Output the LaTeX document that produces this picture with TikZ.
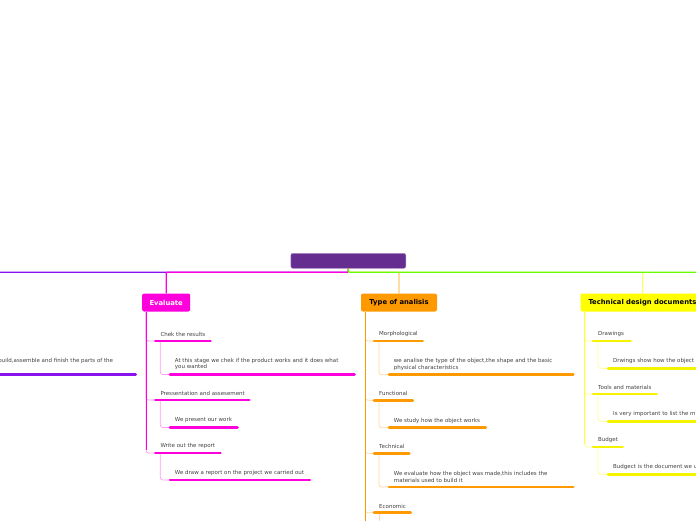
\documentclass[tikz,border=0pt]{standalone}
\usepackage{fontspec}
\setmainfont{DejaVu Sans}
\usetikzlibrary{calc}
\definecolor{rootpurple}{HTML}{662D91}
\definecolor{violetline}{HTML}{8A12EC}
\definecolor{evalmag}{HTML}{FF00DD}
\definecolor{evallight}{HTML}{FF9CEE}
\definecolor{typeorange}{HTML}{FF9900}
\definecolor{typelight}{HTML}{FFD89C}
\definecolor{techyellow}{HTML}{FFFF00}
\definecolor{techbar}{HTML}{F4F400}
\definecolor{techlight}{HTML}{FFFF8C}
\definecolor{greenline}{HTML}{66FF00}
\definecolor{labelgray}{HTML}{404040}
\tikzset{
	maintopic/.style={rounded corners=2pt, inner xsep=7pt, inner ysep=0pt, minimum height=18pt, font=\fontsize{6.8}{7.5}\selectfont\bfseries},
	subtext/.style={inner sep=0pt, anchor=south west, text=labelgray, align=left, font=\fontsize{5.5}{6.7}\selectfont},
	bar/.style={line width=2.6pt, line cap=round},
	hook/.style={line width=0.7pt, rounded corners=2.5pt},
	link/.style={line width=1.2pt, rounded corners=1pt},
}

\begin{document}
\begin{tikzpicture}[x=1pt, y=-1pt]
		%%%%% START %%%%%
		\useasboundingbox (0,0) rectangle (696,520);
		\clip (0,0) rectangle (696,520);
		
		\node[fill=rootpurple, draw=rootpurple!55, rounded corners=2pt, minimum width=115pt, minimum height=15pt, inner sep=0pt] (root) at (348.3,260.8) {};
		
		\node[maintopic, fill=evalmag, text=white, minimum width=48pt] (evaluate) at (166.2,302.5) {Evaluate};
		\node[maintopic, fill=typeorange, text=black, minimum width=76pt] (type) at (399,302.5) {Type of analisis};
		\node[maintopic, fill=techyellow, text=black, anchor=west, inner xsep=8pt] (tech) at (580.3,302.5) {Technical design documents};
		
		%%%%% links from the root
		\draw[link, violetline] (root.south) -- (348.3,272.3) -- (-20,272.3);
		\draw[link, evalmag] (root.south) -- (348.3,272.3) -| (evaluate.north);
		\draw[link, typeorange, line width=0.8pt] (root.south) -- (348.3,272.3) -| (type.north);
		\draw[link, techyellow, line width=0.8pt] (root.south) -- (348.3,272.3) -| (tech.north -| 642.7,0);
		\draw[link, greenline] (root.south) -- (348.3,272.3) -- (720,272.3);
		
		%%%%% left branch
		\coordinate (build-s) at (-20,374.7);
		\draw[bar, violetline] (build-s) -- (135.7,374.7);
		\node[subtext, anchor=base east] (build) at (113.3,362.8) {We build,assemble and finish the parts of the};
		
		%%%%% Evaluate
		\coordinate (evaltrunk) at ($(evaluate.south west)+(4,0)$);
		\coordinate (chek-s) at (155.3,341);
		\coordinate (stage-s) at (170,374.5);
		\coordinate (press-s) at (155.3,400);
		\coordinate (present-s) at (170,427.5);
		\coordinate (write-s) at (155.3,453);
		\coordinate (draw-s) at (170,480);
		
		\draw[hook, evallight] (evaltrunk) |- (chek-s);
		\draw[hook, evallight] (evaltrunk) |- (press-s);
		\draw[hook, evallight] (evaltrunk) |- (write-s);
		\draw[hook, evallight] ($(chek-s)+(5,0)$) |- (stage-s);
		\draw[hook, evallight] ($(press-s)+(5,0)$) |- (present-s);
		\draw[hook, evallight] ($(write-s)+(5,0)$) |- (draw-s);
		\draw[evalmag, line width=0.8pt] (evaltrunk) -- (evaltrunk |- 0,450);
		
		\draw[bar, evalmag] (chek-s) -- (210.5,341);
		\draw[bar, evalmag] (stage-s) -- (354.5,374.5);
		\draw[bar, evalmag] (press-s) -- (249.3,400);
		\draw[bar, evalmag] (present-s) -- (237.5,427.5);
		\draw[bar, evalmag] (write-s) -- (220.5,453);
		\draw[bar, evalmag] (draw-s) -- (310,480);
		
		\node[subtext] (chek) at ($(chek-s)+(5,-4.3)$) {Chek the results};
		\node[subtext] (stage) at ($(stage-s)+(4.7,-4.3)$) {At this stage we chek if the product works and it does what\\you wanted};
		\node[subtext] (press) at ($(press-s)+(5,-4.3)$) {Pressentation and assesement};
		\node[subtext] (present) at ($(present-s)+(4.7,-4.3)$) {We present our work};
		\node[subtext] (write) at ($(write-s)+(5,-4.3)$) {Write out the report};
		\node[subtext] (drawrep) at ($(draw-s)+(4.7,-4.3)$) {We draw a report on the project we carried out};
		
		%%%%% Type of analisis
		\coordinate (typetrunk) at ($(type.south west)+(4.7,0)$);
		\coordinate (morph-s) at (374,341);
		\coordinate (shape-s) at (389,374.7);
		\coordinate (func-s) at (374,400.3);
		\coordinate (works-s) at (389,427.7);
		\coordinate (techn-s) at (374,453.3);
		\coordinate (made-s) at (389,487);
		\coordinate (econ-s) at (374,512.7);
		
		\draw[hook, typelight] (typetrunk) |- (morph-s);
		\draw[hook, typelight] (typetrunk) |- (func-s);
		\draw[hook, typelight] (typetrunk) |- (techn-s);
		\draw[hook, typelight] (typetrunk) |- (econ-s);
		\draw[hook, typelight] ($(morph-s)+(5,0)$) |- (shape-s);
		\draw[hook, typelight] ($(func-s)+(5,0)$) |- (works-s);
		\draw[hook, typelight] ($(techn-s)+(5,0)$) |- (made-s);
		\draw[hook, typelight] ($(econ-s)+(5,0)$) -- ($(econ-s)+(5,20)$);
		\draw[typeorange, line width=0.8pt] (typetrunk) -- (typetrunk |- 0,530);
		
		\draw[bar, typeorange] (morph-s) -- (422.7,341);
		\draw[bar, typeorange] (shape-s) -- (573.3,374.7);
		\draw[bar, typeorange] (func-s) -- (412.7,400.3);
		\draw[bar, typeorange] (works-s) -- (485.7,427.7);
		\draw[bar, typeorange] (techn-s) -- (409.3,453.3);
		\draw[bar, typeorange] (made-s) -- (573.3,487);
		\draw[bar, typeorange] (econ-s) -- (410.7,512.7);
		
		\node[subtext] (morph) at ($(morph-s)+(5,-4.3)$) {Morphological};
		\node[subtext] (shape) at ($(shape-s)+(4.7,-4.3)$) {we analise the type of the object,the shape and the basic\\physical characteristics};
		\node[subtext] (func) at ($(func-s)+(5,-4.3)$) {Functional};
		\node[subtext] (works) at ($(works-s)+(4.7,-4.3)$) {We study how the object works};
		\node[subtext] (techn) at ($(techn-s)+(5,-4.3)$) {Technical};
		\node[subtext] (made) at ($(made-s)+(4.7,-4.3)$) {We evaluate how the object was made,this includes the\\materials used to build it};
		\node[subtext] (econ) at ($(econ-s)+(5,-4.3)$) {Economic};
		
		%%%%% Technical design documents
		\coordinate (techtrunk) at ($(tech.south west)+(4.4,0)$);
		\coordinate (drawings-s) at (593,341);
		\coordinate (show-s) at (608,368.3);
		\coordinate (tools-s) at (593,394);
		\coordinate (list-s) at (608,421.3);
		\coordinate (budget-s) at (593,447);
		\coordinate (budgdoc-s) at (608,474.3);
		
		\draw[hook, techlight] (techtrunk) |- (drawings-s);
		\draw[hook, techlight] (techtrunk) |- (tools-s);
		\draw[hook, techlight] (techtrunk) |- (budget-s);
		\draw[hook, techlight] ($(drawings-s)+(5,0)$) |- (show-s);
		\draw[hook, techlight] ($(tools-s)+(5,0)$) |- (list-s);
		\draw[hook, techlight] ($(budget-s)+(5,0)$) |- (budgdoc-s);
		\draw[techyellow!80!white, line width=0.8pt] (techtrunk) -- (techtrunk |- 0,444);
		
		\draw[bar, techbar] (drawings-s) -- (630.7,341);
		\draw[bar, techbar] (show-s) -- (710,368.3);
		\draw[bar, techbar] (tools-s) -- (656.7,394);
		\draw[bar, techbar] (list-s) -- (710,421.3);
		\draw[bar, techbar] (budget-s) -- (622.7,447);
		\draw[bar, techbar] (budgdoc-s) -- (710,474.3);
		
		\node[subtext] (drawings) at ($(drawings-s)+(5,-4.3)$) {Drawings};
		\node[subtext] (show) at ($(show-s)+(5,-4.3)$) {Drwings show how the object};
		\node[subtext] (tools) at ($(tools-s)+(5,-4.3)$) {Tools and materials};
		\node[subtext] (list) at ($(list-s)+(5,-4.3)$) {Is very important to list the m};
		\node[subtext] (budget) at ($(budget-s)+(5,-4.3)$) {Budget};
		\node[subtext] (budgdoc) at ($(budgdoc-s)+(5,-4.3)$) {Budgect is the document we u};
		%%%%% END %%%%%
	\end{tikzpicture}
\end{document}
